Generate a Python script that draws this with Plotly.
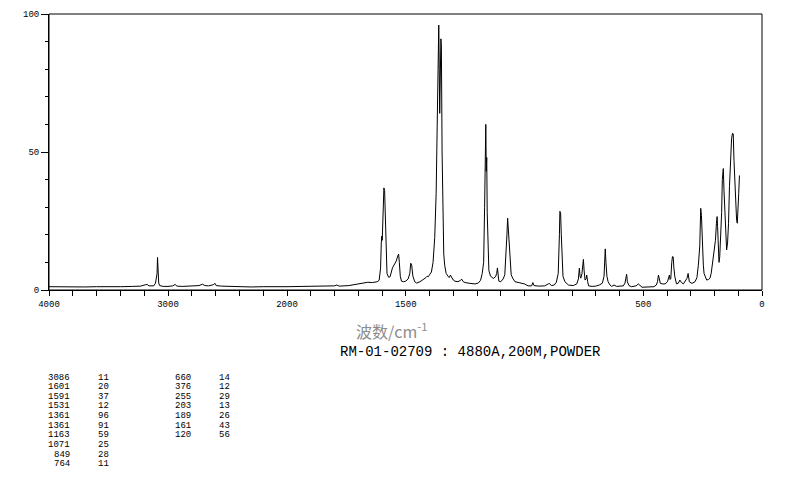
import plotly.graph_objects as go

# ---------------- data ----------------
# high-wavenumber segment, 4000 -> 2000 cm-1 (compressed scale)
hi_wn = [4000, 3900, 3800, 3700, 3600, 3500, 3400, 3300, 3230, 3190, 3175, 3160,
         3120, 3105, 3097, 3092, 3088, 3085, 3082, 3078, 3070, 3040, 3000, 2960,
         2940, 2925, 2880, 2800, 2740, 2710, 2690, 2660, 2620, 2605, 2595, 2550,
         2500, 2400, 2300, 2200, 2100, 2000]
hi_int = [1.2, 1.1, 1.2, 1.1, 1.2, 1.1, 1.2, 1.3, 1.4, 1.9, 2.0, 1.5,
          1.5, 2.5, 5.2, 6.0, 11.8, 8.0, 7.5, 2.5, 1.6, 1.3, 1.3, 1.5,
          2.0, 1.4, 1.3, 1.4, 1.6, 2.1, 1.6, 1.5, 1.9, 2.4, 1.6, 1.4,
          1.3, 1.2, 1.1, 1.2, 1.1, 1.2]

# low-wavenumber segment, 2000 -> 95 cm-1 (expanded scale)
lo_wn = [2000, 1900, 1850, 1800, 1790, 1780, 1740, 1700, 1680, 1660, 1640, 1620,
         1612, 1606, 1603, 1601, 1599, 1596, 1592, 1589, 1586, 1583, 1579, 1572,
         1566, 1556, 1548, 1540, 1533, 1530, 1527, 1523, 1518, 1510, 1500, 1490,
         1483, 1479, 1475, 1470, 1462, 1454, 1440, 1425, 1415, 1410, 1405, 1400,
         1392, 1385, 1378, 1372, 1367, 1364, 1361, 1359, 1357, 1355, 1352, 1350,
         1347, 1344, 1340, 1336, 1330, 1322, 1317, 1312, 1308, 1300, 1293, 1280,
         1268, 1264, 1258, 1250, 1230, 1208, 1195, 1185, 1178, 1172, 1168, 1165,
         1163, 1162, 1161, 1159, 1157, 1154, 1150, 1143, 1131, 1122, 1117, 1114,
         1111, 1108, 1100, 1090, 1083, 1078, 1074, 1071, 1068, 1065, 1061, 1056,
         1048, 1040, 1020, 1000, 985, 970, 965, 960, 940, 915, 900, 895,
         887, 875, 866, 858, 853, 851, 848, 845, 842, 838, 830, 815,
         795, 780, 773, 769, 766, 763, 758, 755, 752, 749, 745, 741,
         738, 734, 730, 715, 700, 685, 672, 665, 662, 660, 657, 653,
         648, 640, 633, 623, 612, 595, 584, 577, 573, 570, 567, 560,
         550, 530, 521, 512, 505, 480, 455, 445, 440, 436, 432, 428,
         418, 408, 398, 394, 390, 387, 384, 380, 377, 374, 371, 367,
         360, 352, 346, 340, 331, 324, 316, 311, 306, 295, 282, 274,
         268, 262, 258, 255, 251, 247, 244, 238, 233, 225, 219, 214,
         210, 206, 203, 199, 196, 192, 189, 187, 184, 181, 178, 174,
         170, 167, 163, 160, 157, 153, 149, 145, 141, 137, 132, 128,
         124, 121, 118, 114, 111, 107, 104, 101, 98, 95]
lo_int = [1.2, 1.3, 1.3, 1.5, 1.8, 1.4, 1.6, 2.3, 2.4, 2.8, 2.7, 3.0,
          3.5, 8.0, 17.0, 19.5, 18.0, 26.0, 37.0, 36.0, 25.0, 12.0, 6.0, 4.6,
          4.8, 8.0, 9.5, 10.5, 12.5, 13.0, 10.0, 5.0, 3.2, 3.0, 3.2, 4.0,
          6.0, 9.7, 9.0, 5.0, 3.0, 2.5, 3.0, 3.8, 4.5, 5.0, 4.8, 5.5,
          6.5, 10.0, 19.0, 35.0, 62.0, 85.0, 96.0, 80.0, 64.0, 75.0, 91.0, 88.0,
          50.0, 25.0, 13.0, 9.0, 6.0, 5.0, 4.5, 5.4, 4.8, 3.6, 3.2, 3.0,
          3.6, 3.9, 3.0, 2.7, 2.4, 2.2, 2.5, 3.5, 6.0, 10.0, 30.0, 50.0,
          60.0, 52.0, 43.0, 48.0, 28.0, 14.0, 7.0, 5.0, 4.2, 4.8, 6.0, 8.0,
          6.0, 3.2, 3.0, 4.0, 5.5, 12.0, 20.0, 26.0, 22.0, 16.0, 9.0, 5.5,
          4.0, 3.0, 2.6, 2.2, 1.5, 1.5, 2.7, 1.6, 1.4, 1.5, 2.2, 2.4,
          1.6, 1.8, 2.8, 6.0, 20.0, 28.5, 28.0, 20.0, 9.0, 5.0, 3.0, 1.8,
          1.6, 2.2, 4.0, 7.9, 5.0, 4.3, 6.0, 9.0, 11.1, 7.0, 3.6, 4.0,
          5.4, 3.0, 1.5, 1.3, 1.4, 1.8, 2.5, 5.0, 12.0, 14.9, 10.0, 5.0,
          3.0, 1.8, 1.3, 1.8, 1.3, 1.4, 1.5, 2.5, 4.0, 5.7, 3.0, 1.6,
          1.2, 1.5, 2.2, 1.4, 1.0, 1.1, 1.2, 1.8, 3.0, 5.4, 3.5, 2.4,
          2.2, 2.2, 3.0, 4.3, 5.4, 3.8, 4.2, 10.0, 12.1, 12.0, 8.0, 4.8,
          2.2, 2.5, 3.6, 2.8, 2.2, 3.0, 4.2, 6.0, 3.0, 2.4, 3.0, 4.5,
          9.0, 16.0, 29.6, 27.0, 15.0, 9.0, 6.0, 4.2, 3.6, 3.8, 4.3, 6.0,
          8.5, 12.1, 13.9, 15.0, 18.0, 24.0, 26.6, 23.0, 14.0, 10.0, 12.0, 18.0,
          28.0, 40.0, 44.0, 36.0, 28.0, 18.0, 14.5, 17.0, 24.0, 37.4, 50.0, 55.0,
          56.8, 56.5, 47.0, 38.0, 31.0, 25.4, 24.2, 28.0, 35.0, 41.5]

# peak table
peak_wn = [3086, 1601, 1591, 1531, 1361, 1361, 1163, 1071, 849, 764,
           660, 376, 255, 203, 189, 161, 120]
peak_int = [11, 20, 37, 12, 96, 91, 59, 25, 28, 11,
            14, 12, 29, 13, 26, 43, 56]

hi_tick_vals = [4000, 3000]
lo_tick_vals = [2000, 1500, 500, 0]
y_tick_vals = [0, 50, 100]

x_title = "波数/cm<sup>-1</sup>"
info_text = "RM-01-02709 : 4880A,200M,POWDER"

# ---------------- layout geometry ----------------
# the page body has an 8px default margin, so the figure is placed 8px in
OFF = 8
W, H = 794 - OFF, 482 - OFF
# plot area in page pixels
PL, PR, PT, PB = 49, 762, 14, 290
split = 238 / 713.0


def px2paper_x(px):
    return (px - PL) / (PR - PL)


def px2paper_y(py):
    return (PB - py) / (PB - PT)


line_style = dict(color="black", width=1)
fig = go.Figure()
fig.add_trace(go.Scatter(x=hi_wn, y=hi_int, xaxis="x", yaxis="y",
                         mode="lines", line=line_style, hoverinfo="skip"))
fig.add_trace(go.Scatter(x=lo_wn, y=lo_int, xaxis="x2", yaxis="y",
                         mode="lines", line=line_style, hoverinfo="skip"))

tick_font = dict(family="Liberation Mono", size=9, color="black")
axis_common = dict(showline=True, linecolor="black", linewidth=1,
                   showgrid=False, zeroline=False, ticks="outside",
                   tickcolor="black", tickwidth=1, tickfont=tick_font,
                   fixedrange=True, automargin=False)

fig.update_layout(
    width=W, height=H,
    margin=dict(l=PL - OFF, r=794 - PR, t=PT - OFF, b=482 - PB, pad=0),
    paper_bgcolor="white", plot_bgcolor="white",
    showlegend=False,
    xaxis=dict(domain=[0, split], range=[4000, 2000], anchor="y",
               tickmode="array", tickvals=hi_tick_vals,
               ticktext=[str(v) for v in hi_tick_vals], ticklen=5,
               minor=dict(ticks="outside", ticklen=5, dtick=200, tick0=0,
                          tickcolor="black", showgrid=False),
               **axis_common),
    xaxis2=dict(domain=[split, 1], range=[2000, 0], anchor="y",
                tickmode="array", tickvals=lo_tick_vals,
                ticktext=[str(v) for v in lo_tick_vals], ticklen=5,
                minor=dict(ticks="outside", ticklen=5, dtick=100, tick0=0,
                           tickcolor="black", showgrid=False),
                **axis_common),
    yaxis=dict(domain=[0, 1], range=[0, 100], anchor="x",
               tickmode="array", tickvals=y_tick_vals,
               ticktext=[str(v) for v in y_tick_vals], ticklen=7,
               minor=dict(ticks="outside", ticklen=3, dtick=10, tick0=0,
                          tickcolor="black", showgrid=False),
               **axis_common),
    shapes=[dict(type="rect", xref="paper", yref="paper", x0=0, x1=1, y0=0, y1=1,
                 line=dict(color="black", width=1), fillcolor="rgba(0,0,0,0)")],
)

annotations = []
annotations.append(dict(text=x_title, xref="paper", yref="paper",
                        x=px2paper_x(391), y=px2paper_y(330), showarrow=False,
                        xanchor="center", yanchor="middle",
                        font=dict(family="Noto Sans CJK SC", size=16, color="#8c8c8c")))
annotations.append(dict(text=info_text, xref="paper", yref="paper",
                        x=px2paper_x(470), y=px2paper_y(352), showarrow=False,
                        xanchor="center", yanchor="middle",
                        font=dict(family="Liberation Mono", size=14, color="black")))

table_font = dict(family="Liberation Mono", size=9, color="black")
row0, row_step = 377.5, 9.63
for i, (wn, it) in enumerate(zip(peak_wn, peak_int)):
    if i < 10:
        col_wn, col_it, r = 72, 111, i
    else:
        col_wn, col_it, r = 193, 232, i - 10
    yy = px2paper_y(row0 + r * row_step)
    annotations.append(dict(text=str(wn), xref="paper", yref="paper",
                            x=px2paper_x(col_wn), y=yy, showarrow=False,
                            xanchor="right", yanchor="middle", font=table_font))
    annotations.append(dict(text=str(it), xref="paper", yref="paper",
                            x=px2paper_x(col_it), y=yy, showarrow=False,
                            xanchor="right", yanchor="middle", font=table_font))

fig.update_layout(annotations=annotations)

fig.write_html("out.html")
